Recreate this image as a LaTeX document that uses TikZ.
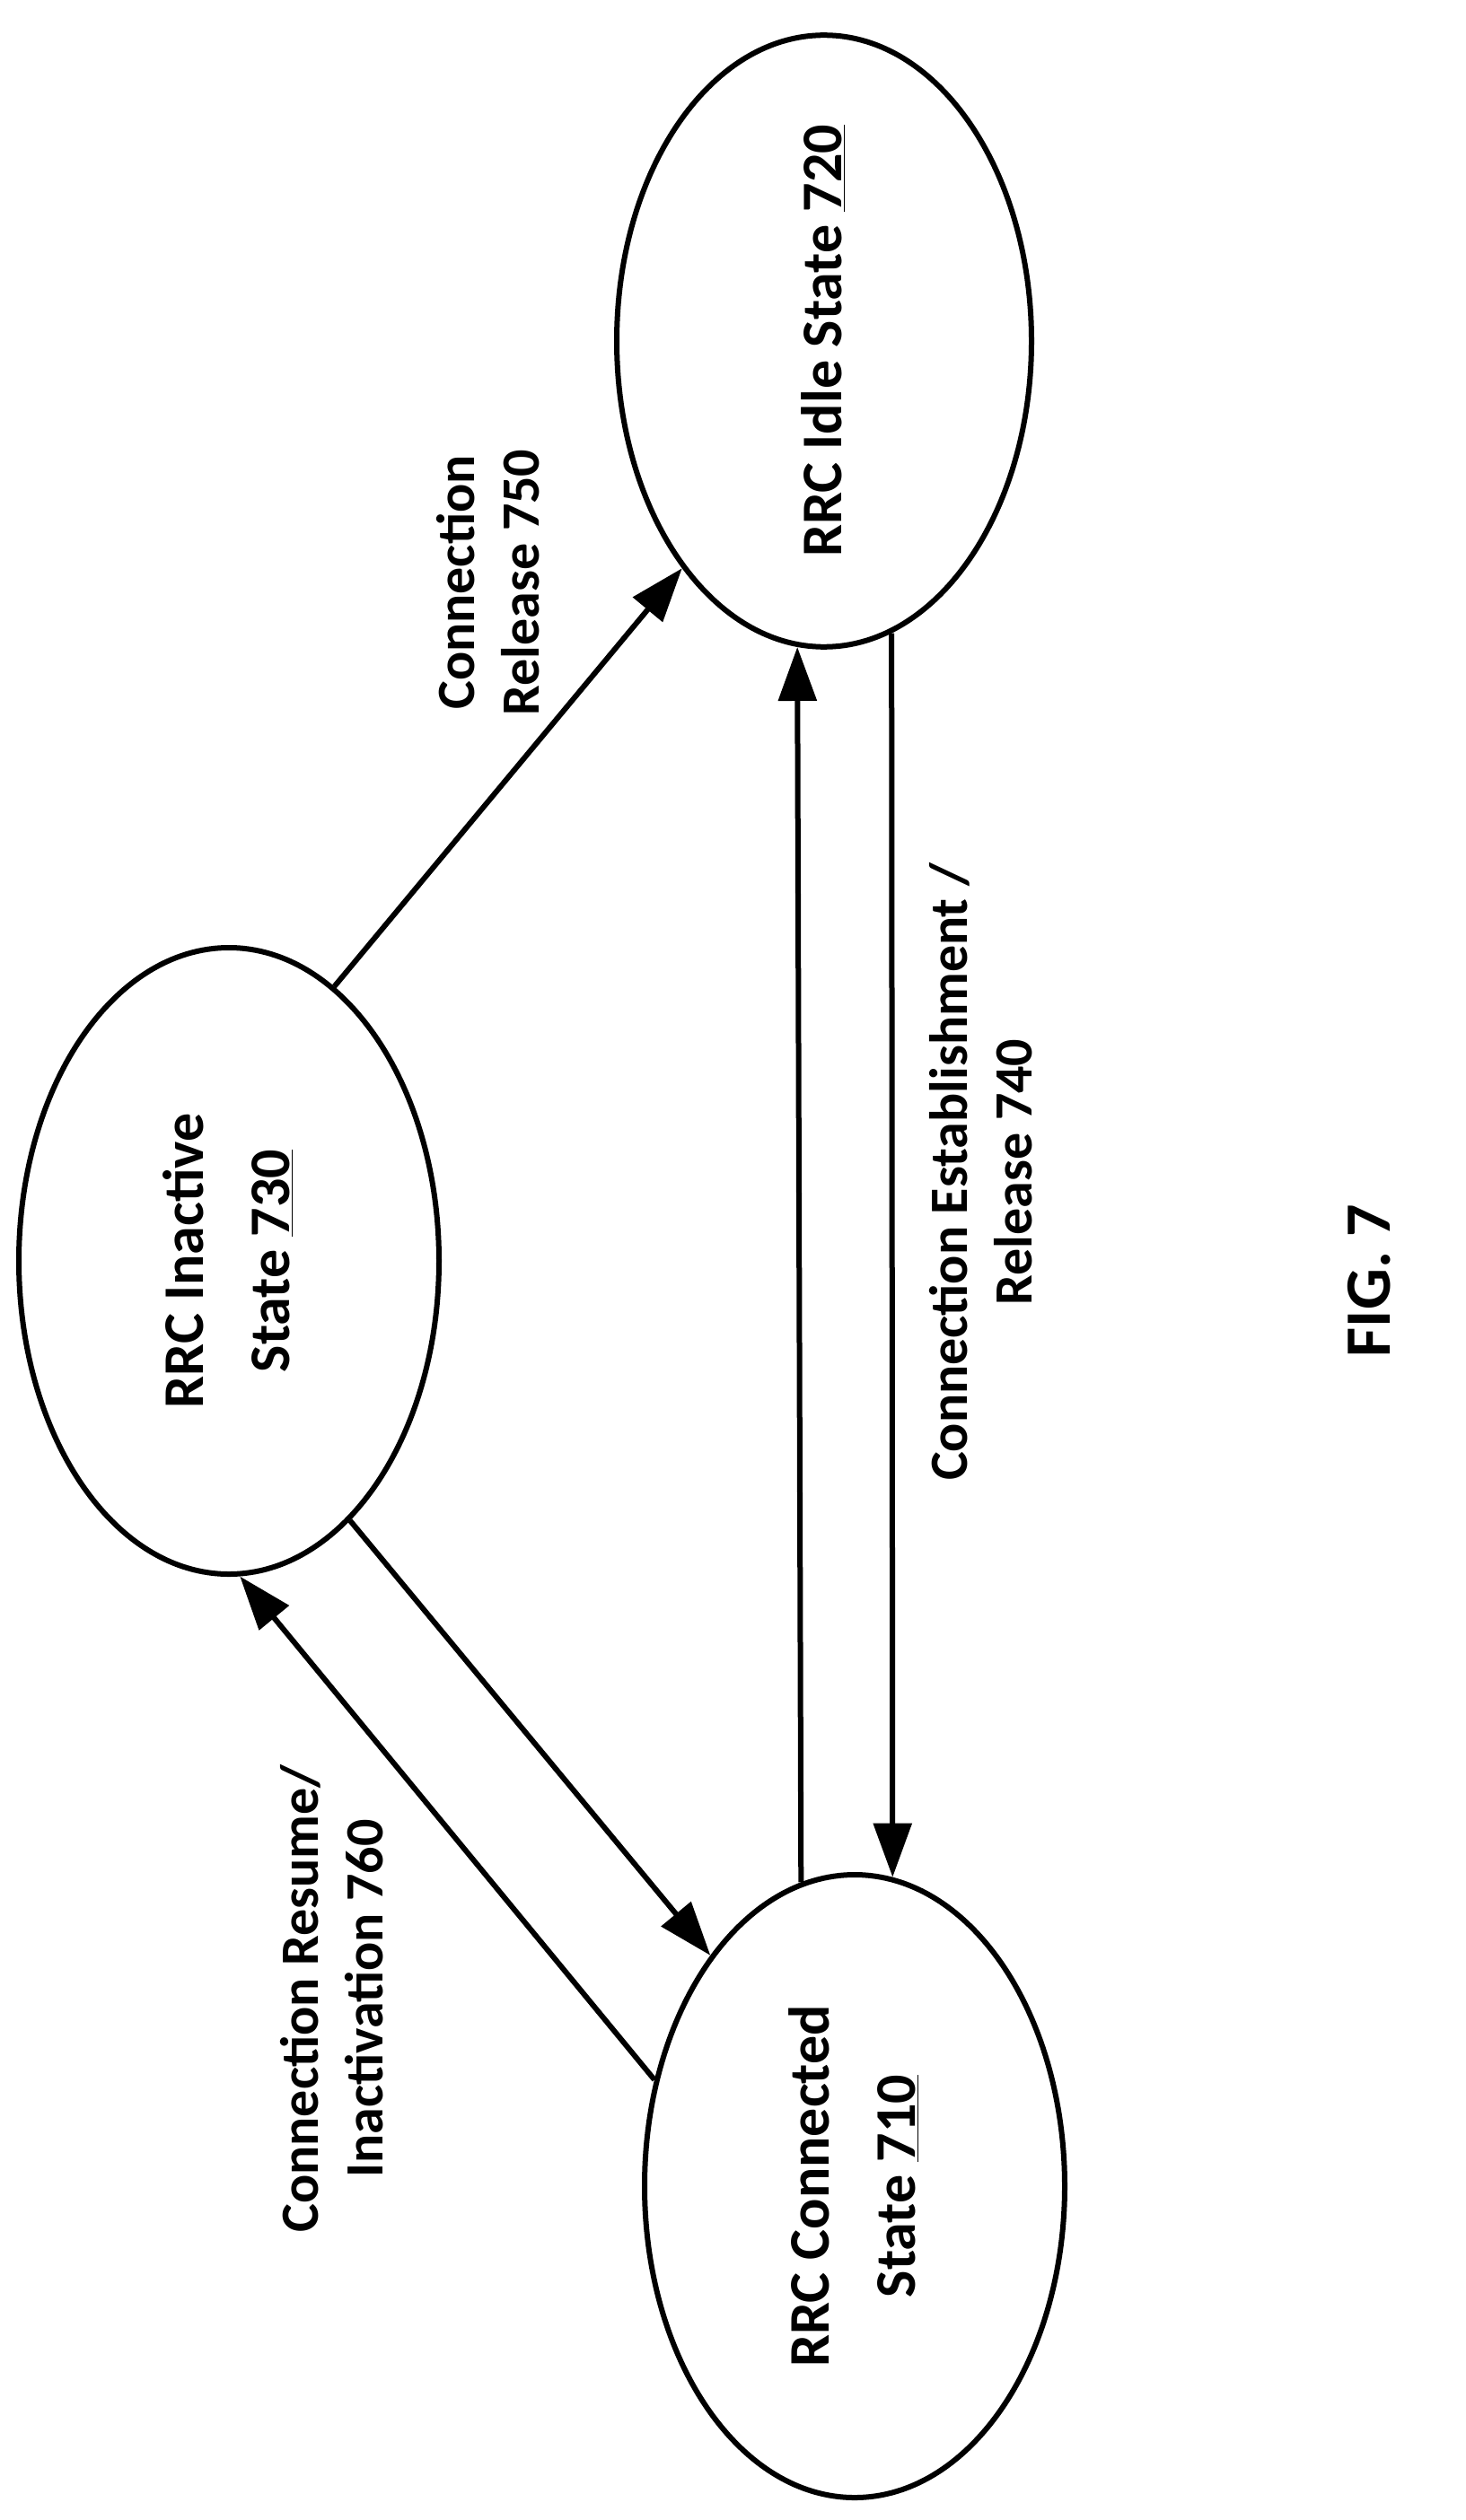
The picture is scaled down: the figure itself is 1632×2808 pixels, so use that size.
\documentclass[tikz,border=0pt]{standalone}
\usepackage{fontspec}
\setmainfont{Carlito}
\usetikzlibrary{shapes.geometric,arrows.meta}
\newcommand{\rot}[1]{\rotatebox{90}{\begin{tabular}{@{}c@{}}#1\end{tabular}}}
\begin{document}
\begin{tikzpicture}[x=0.5pt,y=-0.5pt,
  state/.style={draw,ellipse,line width=3pt,inner sep=0pt,font=\fontsize{32}{48}\selectfont\bfseries},
  lbl/.style={inner sep=0pt,font=\fontsize{30}{36}\selectfont\bfseries},
  arr/.style={line width=3pt,-{Triangle[length=30pt,width=21pt]}}]
\useasboundingbox (0,0) rectangle (1632,2808);
\node[state,minimum width=231pt,minimum height=340pt] (idle) at (918,380) {\rot{RRC Idle State \underline{720}}};
\node[state,minimum width=234pt,minimum height=349pt] (inact) at (255,1405) {\rot{\renewcommand{\arraystretch}{1.45}RRC Inactive\\State \underline{730}}};
\node[state,minimum width=234pt,minimum height=347pt] (conn) at (952,2436) {\rot{\renewcommand{\arraystretch}{1.45}RRC Connected\\State \underline{710}}};
\draw[arr] (inact.69.6) -- (idle.238.2);
\draw[arr] (conn.100.4) -- (idle.265.1);
\draw[arr] (idle.283.2) -- (conn.83.1);
\draw[arr] (inact.-65.3) -- (conn.122.0);
\draw[arr] (conn.152.7) -- (inact.-88.4);
\node[lbl,rotate=90,align=center] (l750) at (544,649) {Connection\\Release 750};
\node[lbl,rotate=90,align=center] (l740) at (1093,1306) {Connection Establishment /\\Release 740};
\node[lbl,rotate=90,align=center] (l760) at (370,2227) {Connection Resume/\\Inactivation 760};
\node[lbl,rotate=90,font=\fontsize{36}{40}\selectfont\bfseries] (fig) at (1525,1427) {FIG. 7};
\end{tikzpicture}
\end{document}
